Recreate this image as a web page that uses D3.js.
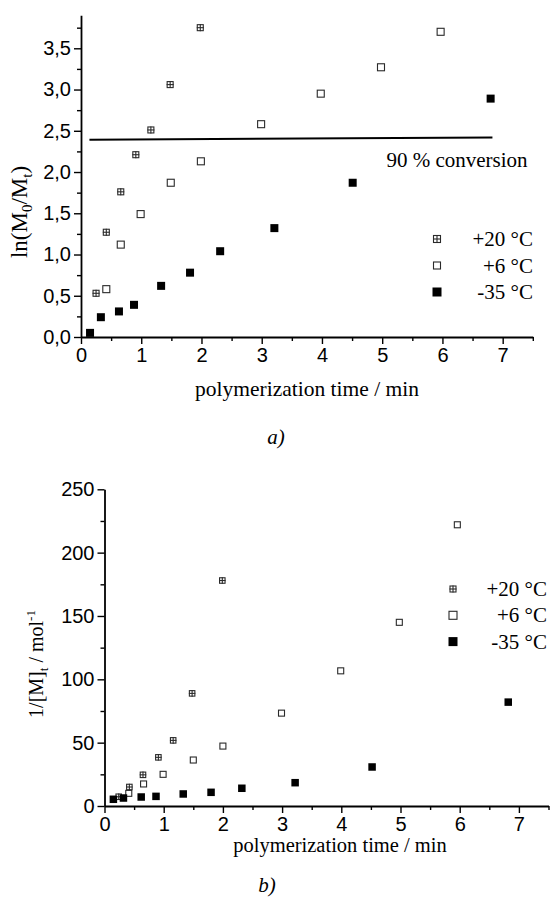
<!DOCTYPE html>
<html>
<head>
<meta charset="utf-8">
<script src="https://cdn.jsdelivr.net/npm/d3@7"></script>
<style>
  body { margin: 0; background: #fff; }
  svg { display: block; }
</style>
</head>
<body>
<div id="grafico"></div>
<script>
// ---- data ----
const seriesNames = ["+20 °C", "+6 °C", "-35 °C"];

// a) ln(M0/Mt) vs time
const timeA20 = [0.25, 0.42, 0.66, 0.91, 1.16, 1.48, 1.98];
const lnA20   = [0.53, 1.27, 1.76, 2.21, 2.51, 3.06, 3.75];
const timeA6  = [0.42, 0.66, 0.99, 1.49, 1.99, 2.99, 3.98, 4.98, 5.97];
const lnA6    = [0.58, 1.12, 1.49, 1.87, 2.13, 2.58, 2.95, 3.27, 3.70];
const timeA35 = [0.15, 0.33, 0.63, 0.88, 1.33, 1.81, 2.31, 3.21, 4.51, 6.80];
const lnA35   = [0.05, 0.24, 0.31, 0.39, 0.62, 0.78, 1.04, 1.32, 1.87, 2.89];
const conversionTime  = [0.14, 6.83];
const conversionValue = [2.39, 2.42];

// b) 1/[M]t vs time
const timeB20 = [0.24, 0.42, 0.65, 0.91, 1.16, 1.48, 1.99];
const invB20  = [7.3, 15, 24.6, 38.4, 51.8, 88.9, 178];
const timeB6  = [0.41, 0.66, 0.99, 1.50, 2.00, 2.99, 3.99, 4.98, 5.96];
const invB6   = [10, 17.4, 25, 36.3, 47.3, 73.3, 106.7, 145, 222];
const timeB35 = [0.15, 0.32, 0.62, 0.87, 1.33, 1.80, 2.32, 3.22, 4.52, 6.82];
const invB35  = [5.3, 6.3, 7.1, 7.6, 9.5, 10.8, 14, 18.4, 30.8, 82];

const xTicks  = [0, 1, 2, 3, 4, 5, 6, 7];
const yTicksA = [0, 0.5, 1, 1.5, 2, 2.5, 3, 3.5];
const yTicksB = [0, 50, 100, 150, 200, 250];

const serif = "'Liberation Serif', 'Times New Roman', serif";
const sans  = "'Liberation Sans', Arial, sans-serif";

const svg = d3.select("#grafico")
              .append("svg")
              .attr("width", 552)
              .attr("height", 912);

const zip = (xs, ys) => xs.map((x, i) => ({ t: x, v: ys[i] }));

// draws one marker of a series at (x, y)
function marker(g, kind, x, y, s) {
    if (kind === 2) {
        g.append("rect")
         .attr("x", x - s / 2).attr("y", y - s / 2)
         .attr("width", s).attr("height", s)
         .attr("fill", "#000");
        return;
    }
    g.append("rect")
     .attr("x", x - s / 2 + 0.5).attr("y", y - s / 2 + 0.5)
     .attr("width", s - 1).attr("height", s - 1)
     .attr("fill", "none")
     .attr("stroke", "#2a2a2a")
     .attr("stroke-width", 1.1);
    if (kind === 0) {
        g.append("line")
         .attr("x1", x).attr("x2", x)
         .attr("y1", y - s / 2).attr("y2", y + s / 2)
         .attr("stroke", "#2a2a2a").attr("stroke-width", 1.1);
        g.append("line")
         .attr("x1", x - s / 2).attr("x2", x + s / 2)
         .attr("y1", y).attr("y2", y)
         .attr("stroke", "#2a2a2a").attr("stroke-width", 1.1);
    }
}

function panel(cfg) {
    const g = svg.append("g");

    const xScale = d3.scaleLinear().domain([0, 7.5]).range(cfg.xRange);
    const yScale = d3.scaleLinear().domain(cfg.yDomain).range(cfg.yRange);

    // minor ticks
    g.append("g")
     .attr("transform", `translate(0, ${cfg.yRange[0]})`)
     .call(d3.axisBottom(xScale).tickValues(d3.range(0.5, 7.6, 1)).tickSize(4).tickSizeOuter(0).tickFormat(""))
     .call(a => a.select(".domain").remove());
    g.append("g")
     .attr("transform", `translate(${cfg.xRange[0]}, 0)`)
     .call(d3.axisLeft(yScale).tickValues(cfg.yMinor).tickSize(4).tickSizeOuter(0).tickFormat(""))
     .call(a => a.select(".domain").remove());

    const xAxis = g.append("g")
     .attr("transform", `translate(0, ${cfg.yRange[0]})`)
     .call(d3.axisBottom(xScale).tickValues(xTicks).tickSize(7).tickSizeOuter(0).tickPadding(4));
    const yAxis = g.append("g")
     .attr("transform", `translate(${cfg.xRange[0]}, 0)`)
     .call(d3.axisLeft(yScale).tickValues(cfg.yTicks).tickSize(7).tickSizeOuter(0).tickPadding(3)
             .tickFormat(cfg.yFormat));

    g.selectAll(".domain").attr("stroke-width", 1.8);
    g.selectAll(".tick line").attr("stroke-width", 1.4);
    [xAxis, yAxis].forEach(a => a.selectAll("text")
        .attr("font-family", sans).attr("font-size", "20px").attr("fill", "#000"));

    // series
    const series = [zip(cfg.t20, cfg.v20), zip(cfg.t6, cfg.v6), zip(cfg.t35, cfg.v35)];
    series.forEach((data, k) => {
        data.forEach(d => marker(g, k, xScale(d.t), yScale(d.v), cfg.size[k]));
    });

    if (cfg.line) {
        g.append("path")
         .datum(cfg.line)
         .attr("fill", "none")
         .attr("stroke", "#000")
         .attr("stroke-width", 2)
         .attr("d", d3.line().x(d => xScale(d.t)).y(d => yScale(d.v)));
    }

    // legend
    seriesNames.forEach((name, k) => {
        const y = cfg.legendY + k * cfg.legendStep;
        marker(g, k, cfg.legendMarkX, y, cfg.legendSize[k]);
        g.append("text")
         .attr("x", cfg.legendTextX).attr("y", y + 7)
         .attr("text-anchor", "end")
         .attr("font-family", serif).attr("font-size", "21px")
         .text(name);
    });

    // x label
    g.append("text")
     .attr("x", cfg.xLabel[0]).attr("y", cfg.xLabel[1])
     .attr("text-anchor", "middle")
     .attr("font-family", serif).attr("font-size", cfg.xLabelSize)
     .text("polymerization time / min");

    // panel letter
    g.append("text")
     .attr("x", cfg.letter[0]).attr("y", cfg.letter[1])
     .attr("text-anchor", "middle")
     .attr("font-family", serif).attr("font-style", "italic").attr("font-size", "21px")
     .text(cfg.letter[2]);

    return { g, xScale, yScale };
}

const fmtComma = d => d3.format(".1f")(d).replace(".", ",");

// ---- a) ----
const pa = panel({
    xRange: [81, 532.8], yDomain: [0, 3.9], yRange: [337, 15.3],
    yTicks: yTicksA, yMinor: d3.range(0.25, 3.9, 0.5), yFormat: fmtComma,
    t20: timeA20, v20: lnA20, t6: timeA6, v6: lnA6, t35: timeA35, v35: lnA35,
    size: [7, 8, 8], legendSize: [8, 8, 9],
    line: zip(conversionTime, conversionValue),
    legendY: 239, legendStep: 26.5, legendMarkX: 437, legendTextX: 533,
    xLabel: [307, 396], xLabelSize: "21.5px",
    letter: [276, 444, "a)"]
});

pa.g.append("text")
   .attr("x", 457).attr("y", 167)
   .attr("text-anchor", "middle")
   .attr("font-family", serif).attr("font-size", "21px")
   .text("90 % conversion");

const yLabA = pa.g.append("text")
   .attr("transform", "translate(27, 212) rotate(-90)")
   .attr("text-anchor", "middle")
   .attr("font-family", serif).attr("font-size", "23px");
yLabA.append("tspan").text("ln(M");
yLabA.append("tspan").attr("font-size", "15px").attr("dy", 5).text("0");
yLabA.append("tspan").attr("dy", -5).text("/M");
yLabA.append("tspan").attr("font-size", "15px").attr("dy", 5).text("t");
yLabA.append("tspan").attr("dy", -5).text(")");

// ---- b) ----
const pb = panel({
    xRange: [104.5, 548.5], yDomain: [0, 250], yRange: [806, 489.3],
    yTicks: yTicksB, yMinor: d3.range(25, 250, 50), yFormat: d3.format("d"),
    t20: timeB20, v20: invB20, t6: timeB6, v6: invB6, t35: timeB35, v35: invB35,
    size: [6.5, 7, 7.5], legendSize: [7, 9, 9],
    line: null,
    legendY: 589, legendStep: 26.3, legendMarkX: 453, legendTextX: 547,
    xLabel: [340, 852], xLabelSize: "20.5px",
    letter: [267, 892, "b)"]
});

const yLabB = pb.g.append("text")
   .attr("transform", "translate(43, 664) rotate(-90)")
   .attr("text-anchor", "middle")
   .attr("font-family", serif).attr("font-size", "20px");
yLabB.append("tspan").text("1/[M]");
yLabB.append("tspan").attr("font-size", "13px").attr("dy", 5).text("t");
yLabB.append("tspan").attr("dy", -5).text(" / mol");
yLabB.append("tspan").attr("font-size", "13px").attr("dy", -8).text("-1");
</script>
</body>
</html>
